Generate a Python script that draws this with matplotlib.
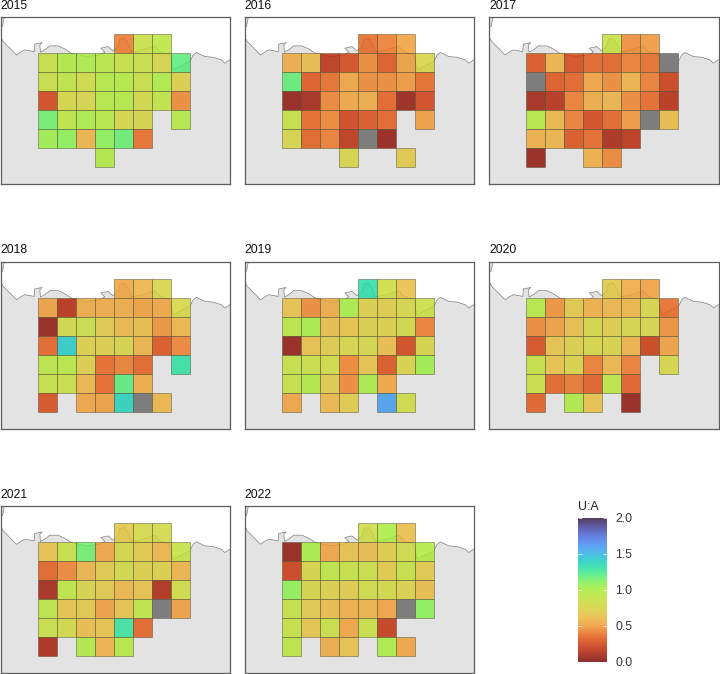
import numpy as np
from matplotlib import pyplot as plt
from matplotlib.colors import ListedColormap

plt.rcParams['font.family'] = ['Liberation Sans', 'DejaVu Sans']

X = None      # no cell in this year
NA = np.nan   # cell sampled, ratio undefined (grey)

# U:A ratio per grid cell, one row per latitude band, north to south
u2015 = [[X, X, X, X, .42, .85, .92, X],
         [.88, .98, 1.0, .95, .88, .85, .78, 1.2],
         [.85, .9, .82, .97, .97, .85, 1.0, .72],
         [.25, .78, .76, .97, .97, .8, .9, .45],
         [1.15, .92, 1.0, .97, .78, .75, X, .97],
         [1.05, 1.1, .58, 1.1, 1.17, .38, X, X],
         [X, X, X, .98, X, X, X, X]]
u2016 = [[X, X, X, X, .37, .42, .52, X],
         [.55, .62, .18, .27, .45, .32, .5, .75],
         [1.18, .32, .38, .52, .45, .45, .48, .37],
         [.05, .1, .43, .53, .55, .35, .07, .25],
         [.87, .36, .44, .24, .3, .35, X, .5],
         [.77, .34, .42, .18, NA, .06, X, X],
         [X, X, X, .76, X, X, .68, X]]
u2017 = [[X, X, X, X, .88, .45, .48, X],
         [.3, .58, .28, .35, .35, .42, .38, NA],
         [NA, .32, .35, .52, .45, .58, .42, .22],
         [.1, .15, .42, .55, .58, .45, .36, .15],
         [.97, .6, .42, .26, .35, .48, NA, .62],
         [.57, .58, .3, .36, .12, .17, X, X],
         [.06, X, X, .57, .43, X, X, X]]
u2018 = [[X, X, X, X, .53, .58, .75, X],
         [.5, .15, .55, .55, .55, .5, .53, .78],
         [.05, .8, .85, .7, .6, .62, .47, .6],
         [.35, 1.42, .72, .72, .75, .58, .3, .43],
         [.92, .95, .72, .36, .42, .35, X, 1.3],
         [.88, .85, .6, .36, 1.2, .55, X, X],
         [.28, X, .52, .5, 1.38, NA, .6, X]]
u2019 = [[X, X, X, X, 1.32, .82, .65, X],
         [.65, .45, .55, 1.02, .72, .7, .78, .85],
         [.92, 1.02, .62, .65, .72, .72, .8, .42],
         [.05, .65, .7, .78, .78, .62, .25, .75],
         [.87, .85, .82, .44, .65, .3, .75, 1.05],
         [.88, .98, .7, .45, 1.02, .53, X, X],
         [.52, X, .6, .7, X, 1.58, .82, X]]
u2020 = [[X, X, X, X, .68, .55, .5, X],
         [.97, .47, .68, .57, .6, .6, .76, .37],
         [.45, .5, .63, .78, .7, .76, .76, .47],
         [.28, .65, .72, .78, .75, .58, .22, .5],
         [.87, .65, .74, .42, .6, .42, X, .78],
         [.84, .35, .4, .33, .92, .33, X, X],
         [.33, X, .98, .65, X, .05, X, X]]
u2021 = [[X, X, X, X, .68, .78, .8, X],
         [.65, .88, 1.15, .52, .78, .68, .6, .87],
         [.34, .43, .58, .7, .8, .72, .72, .58],
         [.1, .92, .75, .68, .6, .65, .13, .82],
         [.92, .65, .68, .5, .65, .92, NA, .5],
         [.85, .8, .62, .65, 1.28, .35, X, X],
         [.12, X, .98, .58, .95, X, X, X]]
u2022 = [[X, X, X, X, .82, 1.0, .62, X],
         [.05, 1.02, .52, .65, .62, .7, .82, .98],
         [.22, .75, .92, .88, .85, .68, .88, .68],
         [1.08, .75, .72, .7, .82, .8, .73, .62],
         [.88, .7, .62, .57, .58, .52, NA, 1.1],
         [.87, .67, .85, .52, .85, .2, X, X],
         [.92, X, .55, .65, X, 1.0, .52, X]]

years = [2015, 2016, 2017, 2018, 2019, 2020, 2021, 2022]
ratios = [u2015, u2016, u2017, u2018, u2019, u2020, u2021, u2022]

# Coastline in grid-cell units
coast_x = [-2.13, -1.96, -1.82, -1.47, -1.12, -.86, -.68, -.19, -.16, .23, .11, .14, .37, .63,
           1.07, 1.42, 1.77, 2.56, 3.26, 3.53, 3.32, 3.7, 3.96, 4.23, 4.32, 4.58, 4.79, 4.93,
           5.54, 6.16, 6.42, 6.95, 7.12, 8.0, 8.18, 8.35, 8.79, 9.23, 9.67, 9.84, 10.1, 10.2]
coast_y = [.05, .14, .4, .75, 1.11, .93, .84, .93, .54, .46, .58, .96, .84, .63,
           .63, .79, 1.02, 1.19, 1.11, .96, .75, .67, .89, .67, .28, .23, .58, .96,
           .84, .63, .93, 1.11, 1.89, 1.46, 1.11, .98, 1.19, 1.23, 1.37, 1.54, 1.37, 1.4]
island_x = [-2.13, -1.75, -1.85, -2.13]
island_y = [-.95, -.95, -.4, -.3]

xlim = (-1.95, 10.14)
ylim = (7.9, -0.89)
vmin, vmax = 0, 2

W, H = 720, 674
panel_x = [0.7, 244.7, 489.3]
panel_y = [17, 261.8, 506.3]
panel_w, panel_h = 229.7, 167
title_pad = [7.6, 8.7, 8.5]


def px_axes(fig, x, y, w, h):
    return fig.add_axes([x / W, 1 - (y + h) / H, w / W, h / H])


def warped_turbo():
    # turbo reversed, a bit wider in the yellow range and dimmer, as the reference key shows
    pos = [0.0, .12, .25, .36, .5, .75, 1.0]
    t = [1.0, .86, .71, .61, .52, .25, 0.0]
    colors = plt.get_cmap('turbo')(np.interp(np.linspace(0, 1, 256), pos, t))
    colors[:, :3] = colors[:, :3] * 0.94
    return ListedColormap(colors)


def plot_all():
    fig = plt.figure(figsize=(W / 100, H / 100), dpi=100)
    cmap = warped_turbo()

    for i in range(len(years)):
        ax = px_axes(fig, panel_x[i % 3], panel_y[i // 3], panel_w, panel_h)
        ax.set_facecolor('white')

        # Land and coast
        poly_x = coast_x + [coast_x[-1], coast_x[0]]
        poly_y = coast_y + [ylim[0] + 1, ylim[0] + 1]
        ax.fill(poly_x, poly_y, color='#E3E3E3', lw=0, zorder=1)
        ax.plot(coast_x, coast_y, color='#808080', lw=0.5, zorder=2)
        ax.fill(island_x, island_y, facecolor='#E3E3E3', edgecolor='#808080', lw=0.5, zorder=1)

        # Grid cells
        for r, row in enumerate(ratios[i]):
            for c, v in enumerate(row):
                if v is None:
                    continue
                if np.isnan(v):
                    fc = (0.47, 0.47, 0.47, 0.95)
                else:
                    fc = cmap((v - vmin) / (vmax - vmin), alpha=0.82)
                ax.bar(c, 1, bottom=r, width=1, align='edge', color=fc,
                       edgecolor=(0.3, 0.3, 0.2, 0.55), linewidth=0.6, zorder=3)

        ax.set_xlim(xlim)
        ax.set_ylim(ylim)
        ax.set_xticks([])
        ax.set_yticks([])
        for s in ax.spines.values():
            s.set_color('#5E5E5E')
            s.set_linewidth(0.9)
            s.set_zorder(5)
        ax.text(0, 1.0 + title_pad[i // 3] / panel_h, str(years[i]), transform=ax.transAxes,
                ha='left', va='baseline', fontsize=8.8, color='#111111')

    # Colour bar
    cax = px_axes(fig, 578, 518, 29, 144)
    grad = np.linspace(vmin, vmax, 256).reshape(-1, 1)
    cax.imshow(grad, cmap=cmap, vmin=vmin, vmax=vmax, alpha=0.82, origin='lower', aspect='auto',
               extent=[0, 1, vmin, vmax])
    cax.set_xticks([])
    cax.yaxis.tick_right()
    cax.set_yticks([0, 0.5, 1, 1.5, 2])
    cax.set_yticklabels(['0.0', '0.5', '1.0', '1.5', '2.0'])
    for s in cax.spines.values():
        s.set_visible(False)
    cax.tick_params(axis='y', direction='in', left=True, right=True, length=3,
                    width=0.5, color='white', labelsize=8.8, labelcolor='#333333', pad=6)
    cax.text(0, 1.0 + 8 / 144, 'U:A', transform=cax.transAxes, ha='left', va='baseline',
             fontsize=8.8, color='#222222')

    fig.savefig('out.png', dpi=100)


plot_all()
